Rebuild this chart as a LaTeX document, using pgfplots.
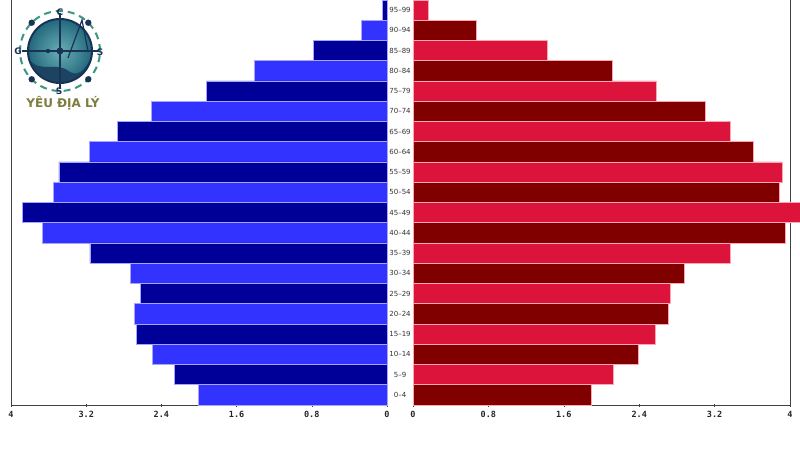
\documentclass[border=0pt]{standalone}
\usepackage{fontspec}
\setmainfont{DejaVu Sans}
\newfontfamily\monofont{DejaVu Sans Mono}
\usepackage{pgfplots}
\pgfplotsset{compat=1.18}
\definecolor{bblue}{RGB}{51,51,255}
\definecolor{bnavy}{RGB}{0,0,153}
\definecolor{rcrim}{RGB}{220,20,60}
\definecolor{rmaro}{RGB}{128,0,0}
\definecolor{bedge}{RGB}{165,165,255}
\definecolor{redge}{RGB}{255,165,180}
\definecolor{logoolive}{RGB}{125,125,60}
\definecolor{logonavy}{RGB}{25,50,85}
\definecolor{logoteal}{RGB}{40,140,150}
\definecolor{logoring}{RGB}{60,150,130}
\begin{document}
\begin{tikzpicture}
\path[use as bounding box, fill=white] (0pt,0pt) rectangle (800pt,450pt);
\pgfplotsset{pyr/.style={
  scale only axis, height=405pt, ymin=-0.5, ymax=19.5,
  xbar, bar width=1, bar shift=0pt,
  axis x line*=bottom, ytick=\empty,
  tick align=center, major tick length=3pt,
  axis line style={black!75, line width=0.6pt},
  tick style={black!75, line width=0.6pt},
  xticklabel style={font=\monofont\bfseries\fontsize{8.5}{9}\selectfont, text=black!85, yshift=-1.5pt},
  clip=false}}
% Left (blue)
\begin{axis}[pyr, at={(11pt,45pt)}, anchor=south west, width=376pt,
  xmin=-4, xmax=0, axis y line*=left,
  xtick={-4,-3.2,-2.4,-1.6,-0.8,0}, xticklabels={4,3.2,2.4,1.6,0.8,0}]
\addplot[fill=bblue, draw=bedge, line width=0.6pt] coordinates {
 (-2.01,0) (-2.50,2) (-2.69,4) (-2.73,6) (-3.67,8) (-3.55,10) (-3.17,12) (-2.51,14) (-1.41,16) (-0.27,18)};
\addplot[fill=bnavy, draw=bedge, line width=0.6pt] coordinates {
 (-2.26,1) (-2.67,3) (-2.62,5) (-3.16,7) (-3.88,9) (-3.49,11) (-2.87,13) (-1.92,15) (-0.78,17) (-0.05,19)};
\end{axis}
% Right (red)
\begin{axis}[pyr, at={(413pt,45pt)}, anchor=south west, width=377pt,
  xmin=0, xmax=4, axis y line*=right,
  xtick={0,0.8,1.6,2.4,3.2,4}, xticklabels={0,0.8,1.6,2.4,3.2,4}]
\addplot[fill=rmaro, draw=redge, line width=0.6pt] coordinates {
 (1.89,0) (2.39,2) (2.71,4) (2.88,6) (3.95,8) (3.89,10) (3.61,12) (3.10,14) (2.11,16) (0.67,18)};
\addplot[fill=rcrim, draw=redge, line width=0.6pt] coordinates {
 (2.13,1) (2.57,3) (2.73,5) (3.37,7) (4.15,9) (3.92,11) (3.37,13) (2.58,15) (1.42,17) (0.16,19)};
\end{axis}
\begin{scope}[x=1pt,y=1pt]
\foreach \lab [count=\i from 0] in {0--4,5--9,10--14,15--19,20--24,25--29,30--34,35--39,40--44,45--49,50--54,55--59,60--64,65--69,70--74,75--79,80--84,85--89,90--94,95--99}
  \node[font=\fontsize{7}{7}\selectfont, text=black!80, inner sep=0pt] at (400,{55.125+\i*20.25}) {\lab};
% logo
\shade[inner color=logoteal!70!white, outer color=logoteal!60!logonavy] (60,399) circle (32);
\fill[logonavy!80!logoteal] (28,392) .. controls (40,375) and (55,390) .. (70,378) .. controls (80,372) and (88,385) .. (91.7,394.5) arc (-8:-180:32) -- cycle;
\draw[logonavy, line width=2pt] (60,399) circle (32);
\draw[logoring, line width=2pt, dash pattern=on 7pt off 5pt] (60,399) circle (40);
\draw[logonavy, line width=1.2pt] (22,399) -- (98,399);
\draw[logonavy, line width=1.2pt] (60,437) -- (60,361);
\draw[logonavy, line width=1.2pt] (68,392) -- (82,430) -- (88,399);
\fill[logonavy] (60,399) circle (3.5);
\fill[logonavy] (48,399) circle (2.2);
\foreach \a in {45,135,225,315} \fill[logonavy] (60,399) ++(\a:40) circle (3.2);
\node[font=\bfseries\fontsize{9}{9}\selectfont, text=logonavy] at (60,438) {C};
\node[font=\bfseries\fontsize{9}{9}\selectfont, text=logonavy] at (18,399) {G};
\node[font=\bfseries\fontsize{9}{9}\selectfont, text=logonavy] at (100,398) {S};
\node[font=\bfseries\fontsize{9}{9}\selectfont, text=logonavy] at (59,359) {S};
\node[font=\bfseries\fontsize{12}{12}\selectfont, text=logoolive, inner sep=0pt] at (63,347) {YÊU ĐỊA LÝ};
\end{scope}
\end{tikzpicture}
\end{document}
